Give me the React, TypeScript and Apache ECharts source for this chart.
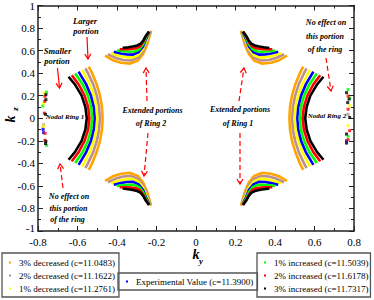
import React, { useEffect, useRef } from "react";
import * as echarts from "echarts";

// Series order: 3% dec, 2% dec, 1% dec, experimental, 1% inc, 2% inc, 3% inc
const seriesNames = [
  "3% decreased (c=11.0483)",
  "2% decreased (c=11.1622)",
  "1% decreased (c=11.2761)",
  "Experimental Value (c=11.3900)",
  "1% increased (c=11.5039)",
  "2% increased (c=11.6178)",
  "3% increased (c=11.7317)",
];
const seriesColors = ["#FFA500", "#BC8F8F", "#FFFF00", "#0000FF", "#00FF00", "#FF0000", "#000000"];

// Nodal ring 1 (left), points [ky, kz] from top end to bottom end
const ringLeft: number[][][] = [
  [[-0.540,0.448],[-0.526,0.4],[-0.503,0.3],[-0.486,0.2],[-0.476,0.1],[-0.473,0],[-0.476,-0.1],[-0.486,-0.2],[-0.503,-0.3],[-0.526,-0.4],[-0.540,-0.448]],
  [[-0.557,0.433],[-0.547,0.4],[-0.520,0.3],[-0.502,0.2],[-0.491,0.1],[-0.487,0],[-0.491,-0.1],[-0.502,-0.2],[-0.520,-0.3],[-0.547,-0.4],[-0.557,-0.433]],
  [[-0.574,0.418],[-0.568,0.4],[-0.538,0.3],[-0.517,0.2],[-0.504,0.1],[-0.500,0],[-0.504,-0.1],[-0.517,-0.2],[-0.538,-0.3],[-0.568,-0.4],[-0.574,-0.418]],
  [[-0.591,0.403],[-0.556,0.3],[-0.532,0.2],[-0.518,0.1],[-0.513,0],[-0.518,-0.1],[-0.532,-0.2],[-0.556,-0.3],[-0.591,-0.403]],
  [[-0.608,0.388],[-0.574,0.3],[-0.547,0.2],[-0.531,0.1],[-0.526,0],[-0.531,-0.1],[-0.547,-0.2],[-0.574,-0.3],[-0.608,-0.388]],
  [[-0.625,0.373],[-0.594,0.3],[-0.564,0.2],[-0.546,0.1],[-0.540,0],[-0.546,-0.1],[-0.564,-0.2],[-0.594,-0.3],[-0.625,-0.373]],
  [[-0.641,0.359],[-0.613,0.3],[-0.579,0.2],[-0.560,0.1],[-0.553,0],[-0.560,-0.1],[-0.579,-0.2],[-0.613,-0.3],[-0.641,-0.359]],
];

// Nodal ring 2 (right)
const ringRight: number[][][] = [
  [[0.540,0.448],[0.526,0.4],[0.503,0.3],[0.486,0.2],[0.476,0.1],[0.473,0],[0.476,-0.1],[0.486,-0.2],[0.503,-0.3],[0.526,-0.4],[0.540,-0.448]],
  [[0.557,0.433],[0.547,0.4],[0.520,0.3],[0.502,0.2],[0.491,0.1],[0.487,0],[0.491,-0.1],[0.502,-0.2],[0.520,-0.3],[0.547,-0.4],[0.557,-0.433]],
  [[0.574,0.418],[0.568,0.4],[0.538,0.3],[0.517,0.2],[0.504,0.1],[0.500,0],[0.504,-0.1],[0.517,-0.2],[0.538,-0.3],[0.568,-0.4],[0.574,-0.418]],
  [[0.591,0.403],[0.556,0.3],[0.532,0.2],[0.518,0.1],[0.513,0],[0.518,-0.1],[0.532,-0.2],[0.556,-0.3],[0.591,-0.403]],
  [[0.608,0.388],[0.574,0.3],[0.547,0.2],[0.531,0.1],[0.526,0],[0.531,-0.1],[0.547,-0.2],[0.574,-0.3],[0.608,-0.388]],
  [[0.625,0.373],[0.594,0.3],[0.564,0.2],[0.546,0.1],[0.540,0],[0.546,-0.1],[0.564,-0.2],[0.594,-0.3],[0.625,-0.373]],
  [[0.641,0.359],[0.613,0.3],[0.579,0.2],[0.560,0.1],[0.553,0],[0.560,-0.1],[0.579,-0.2],[0.613,-0.3],[0.641,-0.359]],
];

// Extended portions, top-left
const extTopLeft: number[][][] = [
  [[-0.455,0.550],[-0.420,0.515],[-0.380,0.492],[-0.335,0.485],[-0.295,0.510],[-0.268,0.570],[-0.248,0.650],[-0.229,0.765]],
  [[-0.440,0.563],[-0.405,0.535],[-0.370,0.517],[-0.330,0.512],[-0.295,0.535],[-0.268,0.595],[-0.250,0.670],[-0.233,0.760]],
  [[-0.425,0.575],[-0.392,0.555],[-0.360,0.542],[-0.325,0.538],[-0.293,0.560],[-0.268,0.615],[-0.252,0.685],[-0.236,0.757]],
  [[-0.410,0.588],[-0.380,0.575],[-0.350,0.566],[-0.320,0.564],[-0.291,0.585],[-0.268,0.635],[-0.254,0.700],[-0.238,0.755]],
  [[-0.395,0.600],[-0.368,0.594],[-0.340,0.590],[-0.312,0.592],[-0.288,0.610],[-0.268,0.655],[-0.255,0.710],[-0.240,0.755]],
  [[-0.380,0.612],[-0.355,0.612],[-0.330,0.614],[-0.305,0.620],[-0.284,0.637],[-0.268,0.675],[-0.256,0.720],[-0.241,0.757]],
  [[-0.365,0.625],[-0.343,0.630],[-0.320,0.637],[-0.298,0.646],[-0.280,0.662],[-0.266,0.692],[-0.255,0.728],[-0.242,0.760]],
];

// Extended portions, top-right
const extTopRight: number[][][] = [
  [[0.455,0.550],[0.420,0.515],[0.380,0.492],[0.335,0.485],[0.295,0.510],[0.268,0.570],[0.248,0.650],[0.229,0.765]],
  [[0.440,0.563],[0.405,0.535],[0.370,0.517],[0.330,0.512],[0.295,0.535],[0.268,0.595],[0.250,0.670],[0.233,0.760]],
  [[0.425,0.575],[0.392,0.555],[0.360,0.542],[0.325,0.538],[0.293,0.560],[0.268,0.615],[0.252,0.685],[0.236,0.757]],
  [[0.410,0.588],[0.380,0.575],[0.350,0.566],[0.320,0.564],[0.291,0.585],[0.268,0.635],[0.254,0.700],[0.238,0.755]],
  [[0.395,0.600],[0.368,0.594],[0.340,0.590],[0.312,0.592],[0.288,0.610],[0.268,0.655],[0.255,0.710],[0.240,0.755]],
  [[0.380,0.612],[0.355,0.612],[0.330,0.614],[0.305,0.620],[0.284,0.637],[0.268,0.675],[0.256,0.720],[0.241,0.757]],
  [[0.365,0.625],[0.343,0.630],[0.320,0.637],[0.298,0.646],[0.280,0.662],[0.266,0.692],[0.255,0.728],[0.242,0.760]],
];

// Extended portions, bottom-left
const extBottomLeft: number[][][] = [
  [[-0.455,-0.550],[-0.420,-0.515],[-0.380,-0.492],[-0.335,-0.485],[-0.295,-0.510],[-0.268,-0.570],[-0.248,-0.650],[-0.229,-0.765]],
  [[-0.440,-0.563],[-0.405,-0.535],[-0.370,-0.517],[-0.330,-0.512],[-0.295,-0.535],[-0.268,-0.595],[-0.250,-0.670],[-0.233,-0.760]],
  [[-0.425,-0.575],[-0.392,-0.555],[-0.360,-0.542],[-0.325,-0.538],[-0.293,-0.560],[-0.268,-0.615],[-0.252,-0.685],[-0.236,-0.757]],
  [[-0.410,-0.588],[-0.380,-0.575],[-0.350,-0.566],[-0.320,-0.564],[-0.291,-0.585],[-0.268,-0.635],[-0.254,-0.700],[-0.238,-0.755]],
  [[-0.395,-0.600],[-0.368,-0.594],[-0.340,-0.590],[-0.312,-0.592],[-0.288,-0.610],[-0.268,-0.655],[-0.255,-0.710],[-0.240,-0.755]],
  [[-0.380,-0.612],[-0.355,-0.612],[-0.330,-0.614],[-0.305,-0.620],[-0.284,-0.637],[-0.268,-0.675],[-0.256,-0.720],[-0.241,-0.757]],
  [[-0.365,-0.625],[-0.343,-0.630],[-0.320,-0.637],[-0.298,-0.646],[-0.280,-0.662],[-0.266,-0.692],[-0.255,-0.728],[-0.242,-0.760]],
];

// Extended portions, bottom-right
const extBottomRight: number[][][] = [
  [[0.455,-0.550],[0.420,-0.515],[0.380,-0.492],[0.335,-0.485],[0.295,-0.510],[0.268,-0.570],[0.248,-0.650],[0.229,-0.765]],
  [[0.440,-0.563],[0.405,-0.535],[0.370,-0.517],[0.330,-0.512],[0.295,-0.535],[0.268,-0.595],[0.250,-0.670],[0.233,-0.760]],
  [[0.425,-0.575],[0.392,-0.555],[0.360,-0.542],[0.325,-0.538],[0.293,-0.560],[0.268,-0.615],[0.252,-0.685],[0.236,-0.757]],
  [[0.410,-0.588],[0.380,-0.575],[0.350,-0.566],[0.320,-0.564],[0.291,-0.585],[0.268,-0.635],[0.254,-0.700],[0.238,-0.755]],
  [[0.395,-0.600],[0.368,-0.594],[0.340,-0.590],[0.312,-0.592],[0.288,-0.610],[0.268,-0.655],[0.255,-0.710],[0.240,-0.755]],
  [[0.380,-0.612],[0.355,-0.612],[0.330,-0.614],[0.305,-0.620],[0.284,-0.637],[0.268,-0.675],[0.256,-0.720],[0.241,-0.757]],
  [[0.365,-0.625],[0.343,-0.630],[0.320,-0.637],[0.298,-0.646],[0.280,-0.662],[0.266,-0.692],[0.255,-0.728],[0.242,-0.760]],
];

// Scattered points at the zone edges
const stripLeft: number[][][] = [
  [[-0.775,-0.085]],
  [[-0.772,-0.058]],
  [[-0.770,0.225],[-0.773,0.130],[-0.771,-0.068]],
  [[-0.774,-0.100],[-0.772,-0.128]],
  [[-0.757,0.232],[-0.776,0.107],[-0.756,-0.240]],
  [[-0.765,0.195],[-0.766,0.150],[-0.768,0.045],[-0.764,-0.133],[-0.765,-0.195]],
  [[-0.760,0.210],[-0.760,0.165],[-0.762,0.035],[-0.760,-0.205],[-0.762,-0.225]],
];
const stripRight: number[][][] = [
  [],
  [[0.770,0.035]],
  [[0.778,0.110],[0.770,-0.066]],
  [[0.762,-0.200]],
  [[0.770,0.255],[0.778,0.178],[0.770,-0.160]],
  [[0.770,0.197],[0.770,0.080],[0.778,-0.110],[0.770,-0.190]],
  [[0.762,0.227],[0.775,0.170],[0.768,0.139],[0.778,0.007],[0.762,-0.140],[0.762,-0.220]],
];

const xTicks = { min: -0.8, max: 0.8, interval: 0.2 };
const yTicks = { min: -1, max: 1, interval: 0.2 };

const SERIF = "'Liberation Serif', 'Times New Roman', serif";

function annText(x: number, y: number, text: string, size = 8) {
  return {
    type: "text",
    x,
    y,
    z: 100,
    style: {
      text,
      fontFamily: SERIF,
      fontStyle: "italic",
      fontWeight: "bold",
      fontSize: size,
      fill: "#000",
      align: "center",
      verticalAlign: "middle",
    },
  };
}

function arrow(x1: number, y1: number, x2: number, y2: number, dashed: boolean) {
  const dx = x2 - x1;
  const dy = y2 - y1;
  const L = Math.hypot(dx, dy);
  const ux = dx / L;
  const uy = dy / L;
  const hl = 5;
  const hw = 3;
  const bx = x2 - ux * hl;
  const by = y2 - uy * hl;
  const lineStyle: any = { stroke: "#FF0000", lineWidth: 1.2 };
  if (dashed) lineStyle.lineDash = [5, 3];
  return [
    { type: "line", z: 100, shape: { x1, y1, x2, y2 }, style: lineStyle },
    {
      type: "polyline",
      z: 100,
      shape: { points: [[bx - uy * hw, by + ux * hw], [x2, y2], [bx + uy * hw, by - ux * hw]] },
      style: { stroke: "#FF0000", lineWidth: 1.2, fill: null },
    },
  ];
}

export default function App() {
  const ref = useRef<HTMLDivElement>(null);
  useEffect(() => {
    if (!ref.current) return;
    const chart = echarts.init(ref.current, undefined, { renderer: "svg" });

    const series: any[] = [];
    const arcGroups = [ringLeft, ringRight, extTopLeft, extTopRight, extBottomLeft, extBottomRight];
    seriesNames.forEach((name, i) => {
      arcGroups.forEach((g) => {
        series.push({
          type: "line",
          name,
          data: g[i],
          symbol: "none",
          silent: true,
          z: 2 + i * 0.01,
          itemStyle: { color: seriesColors[i] },
          lineStyle: { color: seriesColors[i], width: 2.6, cap: "square", join: "miter" },
        });
      });
      series.push({
        type: "scatter",
        name,
        data: [...stripLeft[i], ...stripRight[i]],
        symbol: "rect",
        symbolSize: 3,
        silent: true,
        itemStyle: { color: seriesColors[i] },
      });
    });

    const axisLine = { show: true, onZero: false, lineStyle: { color: "#222", width: 1.5 } };
    const axisTick = { show: true, inside: true, length: 5, lineStyle: { color: "#222", width: 1 } };
    const minorTick = { show: true, splitNumber: 2, length: 3, lineStyle: { color: "#222", width: 1 } };
    const axisLabel = { color: "#000", fontFamily: SERIF, fontSize: 11, lineHeight: 9 };

    const legendBase = {
      orient: "vertical",
      itemWidth: 2,
      itemHeight: 2,
      itemGap: 4,
      selectedMode: false,
      borderColor: "#555",
      borderWidth: 1.3,
      borderRadius: 0,
      itemStyle: { borderWidth: 0, borderColor: "rgba(0,0,0,0)" },
      lineStyle: { width: 0 },
      textStyle: { fontFamily: SERIF, fontSize: 9, color: "#000", padding: [0, 0, 0, 3] },
    };

    const legendItems = (names: string[]) =>
      names.map((n) => ({
        name: n,
        icon: "rect",
        itemStyle: { color: seriesColors[seriesNames.indexOf(n)], borderWidth: 0, borderColor: "rgba(0,0,0,0)" },
      }));

    const graphic: any[] = [
      annText(85, 21, "Larger", 8.5),
      annText(86, 31, "portion", 8.5),
      annText(57.5, 50.5, "Smaller", 8.5),
      annText(57, 61, "portion", 8.5),
      annText(65, 117, "Nodal Ring 1", 7),
      annText(152.5, 110, "Extended portions"),
      annText(151, 123.5, "of Ring 2"),
      annText(240, 109.5, "Extended portions"),
      annText(238, 123, "of Ring 1"),
      annText(326, 22.5, "No effect on"),
      annText(325, 36, "this portion"),
      annText(325, 49.5, "of the ring"),
      annText(327, 116, "Nodal Ring 2", 7),
      annText(69, 196, "No effect on"),
      annText(68.5, 208, "this portion"),
      annText(67.5, 219.5, "of the ring"),
      ...arrow(87, 37, 88, 59, false),
      ...arrow(57.5, 68, 59.5, 88, false),
      ...arrow(147, 101, 146, 68, true),
      ...arrow(148, 133, 144, 176, true),
      ...arrow(239, 101, 244, 68, true),
      ...arrow(240, 133, 240, 184, true),
      ...arrow(326, 58, 331, 91, true),
      ...arrow(63, 188, 60, 164, true),
      {
        type: "text",
        x: 196,
        y: 254,
        style: { text: "k", fontFamily: SERIF, fontStyle: "italic", fontWeight: "bold", fontSize: 14, fill: "#000", align: "center", verticalAlign: "middle" },
      },
      {
        type: "text",
        x: 201,
        y: 261,
        style: { text: "y", fontFamily: SERIF, fontStyle: "italic", fontWeight: "bold", fontSize: 9, fill: "#000", align: "center", verticalAlign: "middle" },
      },
      {
        type: "text",
        x: 10,
        y: 119,
        rotation: Math.PI / 2,
        style: { text: "k", fontFamily: SERIF, fontStyle: "italic", fontWeight: "bold", fontSize: 14, fill: "#000", align: "center", verticalAlign: "middle" },
      },
      {
        type: "text",
        x: 15,
        y: 109,
        rotation: Math.PI / 2,
        style: { text: "z", fontFamily: SERIF, fontStyle: "italic", fontWeight: "bold", fontSize: 9, fill: "#000", align: "center", verticalAlign: "middle" },
      },
    ];

    chart.setOption({
      animation: false,
      backgroundColor: "#fff",
      grid: { left: 38, right: 20, top: 4, bottom: 69, containLabel: false },
      xAxis: [
        {
          type: "value", position: "bottom", ...xTicks,
          axisLine, axisTick, minorTick, splitLine: { show: false },
          axisLabel: { ...axisLabel, margin: 6 },
        },
        {
          type: "value", position: "top", ...xTicks,
          axisLine, axisTick, minorTick, splitLine: { show: false },
          axisLabel: { show: false },
        },
      ],
      yAxis: [
        {
          type: "value", position: "left", ...yTicks,
          axisLine, axisTick, minorTick, splitLine: { show: false },
          axisLabel: {
            ...axisLabel,
            margin: 3,
            formatter: (v: number) => (v === -1 ? "{m|-1}" : String(v)),
            rich: { m: { fontFamily: SERIF, fontSize: 11, color: "#000", lineHeight: 9, padding: [0, 0, 6, 0] } },
          },
        },
        {
          type: "value", position: "right", ...yTicks,
          axisLine, axisTick, minorTick, splitLine: { show: false },
          axisLabel: { show: false },
        },
      ],
      legend: [
        {
          ...legendBase,
          left: 2,
          top: 253,
          padding: [5, 4, 4, 7],
          data: legendItems(seriesNames.slice(0, 3)),
        },
        {
          ...legendBase,
          left: 118,
          top: 273,
          padding: [4, 4, 4, 8],
          data: legendItems(seriesNames.slice(3, 4)),
        },
        {
          ...legendBase,
          left: 257,
          top: 253,
          padding: [5, 2, 4, 7],
          data: legendItems(seriesNames.slice(4, 7)),
        },
      ],
      graphic,
      series,
    });

    return () => chart.dispose();
  }, []);

  return (
    <div
      ref={ref}
      style={{ position: "fixed", left: 0, top: 0, width: 374, height: 300, background: "#fff" }}
    />
  );
}
